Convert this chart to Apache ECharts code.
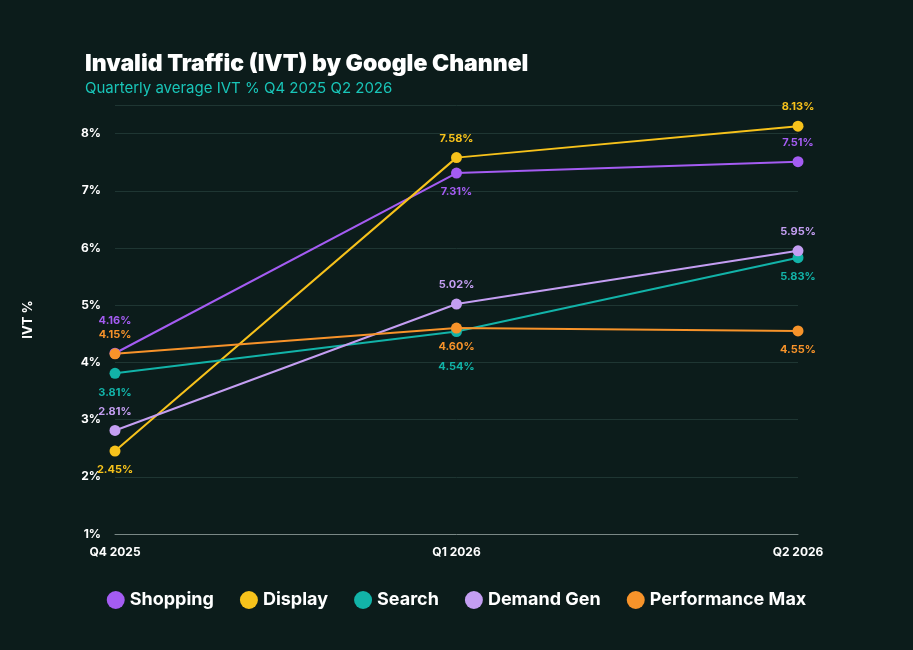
<!DOCTYPE html>
<html><head><meta charset="utf-8">
<script src="https://cdn.jsdelivr.net/npm/echarts@6/dist/echarts.min.js"></script>
<style>html,body{margin:0;background:#0c1c1b}#c{width:913px;height:650px}</style>
</head><body><div id="c"></div>
<script>
var quarters = ['Q4 2025', 'Q1 2026', 'Q2 2026'];
var shopping = [4.16, 7.31, 7.51];
var display = [2.45, 7.58, 8.13];
var search = [3.81, 4.54, 5.83];
var demandGen = [2.81, 5.02, 5.95];
var perfMax = [4.15, 4.60, 4.55];
var yTicks = [1, 8, 1]; // min, max tick, interval

var chart = echarts.init(document.getElementById('c'));
var font = 'Inter, "DejaVu Sans", sans-serif';

function mk(name, data, color, pos, dist) {
    return {
        name: name, type: 'line', data: data.map(function (v, i) {
            return {value: v, label: {position: pos[i], distance: dist ? dist[i] : 8}};
        }),
        symbol: 'circle', symbolSize: 11,
        lineStyle: {color: color, width: 2}, itemStyle: {color: color},
        label: {show: true, color: color, fontWeight: 'bold', fontSize: 11, fontFamily: font,
            formatter: function (p) { return p.value.toFixed(2) + '%'; }}
    };
}

chart.setOption({
    backgroundColor: '#0c1c1b',
    title: {
        text: 'Invalid Traffic (IVT) by Google Channel', left: 80, top: 48,
        textStyle: {color: '#fff', fontSize: 23, fontWeight: 900, fontFamily: font},
        subtext: 'Quarterly average IVT % Q4 2025 Q2 2026',
        subtextStyle: {color: '#19c5b8', fontSize: 15, fontFamily: font}, itemGap: 5
    },
    legend: {
        bottom: 36, left: 'center', icon: 'circle', itemWidth: 18, itemHeight: 18, itemGap: 26,
        textStyle: {color: '#fff', fontSize: 18, fontWeight: 'bold', fontFamily: font}
    },
    grid: {left: 115, right: 115, top: 105, bottom: 116},
    xAxis: {
        type: 'category', data: quarters, boundaryGap: false,
        axisLine: {lineStyle: {color: '#7a8886'}}, axisTick: {show: false},
        axisLabel: {color: '#fff', fontWeight: 'bold', fontSize: 12, fontFamily: font, margin: 12}
    },
    yAxis: {
        type: 'value', min: yTicks[0], max: 8.5, interval: yTicks[2],
        name: 'IVT %', nameLocation: 'middle', nameGap: 80, nameRotate: 90,
        nameTextStyle: {color: '#fff', fontWeight: 'bold', fontSize: 13, fontFamily: font},
        axisLabel: {color: '#fff', fontWeight: 'bold', fontSize: 12, fontFamily: font, margin: 14,
            formatter: function (v) { return v <= yTicks[1] ? v + '%' : ''; }},
        splitLine: {lineStyle: {color: '#1f3633'}}
    },
    series: [
        mk('Shopping', shopping, '#a45cf2', ['top', 'bottom', 'top'], [22, 8, 8]),
        mk('Display', display, '#f7c21b', ['bottom', 'top', 'top']),
        mk('Search', search, '#12b3a8', ['bottom', 'bottom', 'bottom'], [8, 24, 8]),
        mk('Demand Gen', demandGen, '#c49ef2', ['top', 'top', 'top']),
        mk('Performance Max', perfMax, '#f7932a', ['top', 'bottom', 'bottom'])
    ]
});
</script></body></html>
